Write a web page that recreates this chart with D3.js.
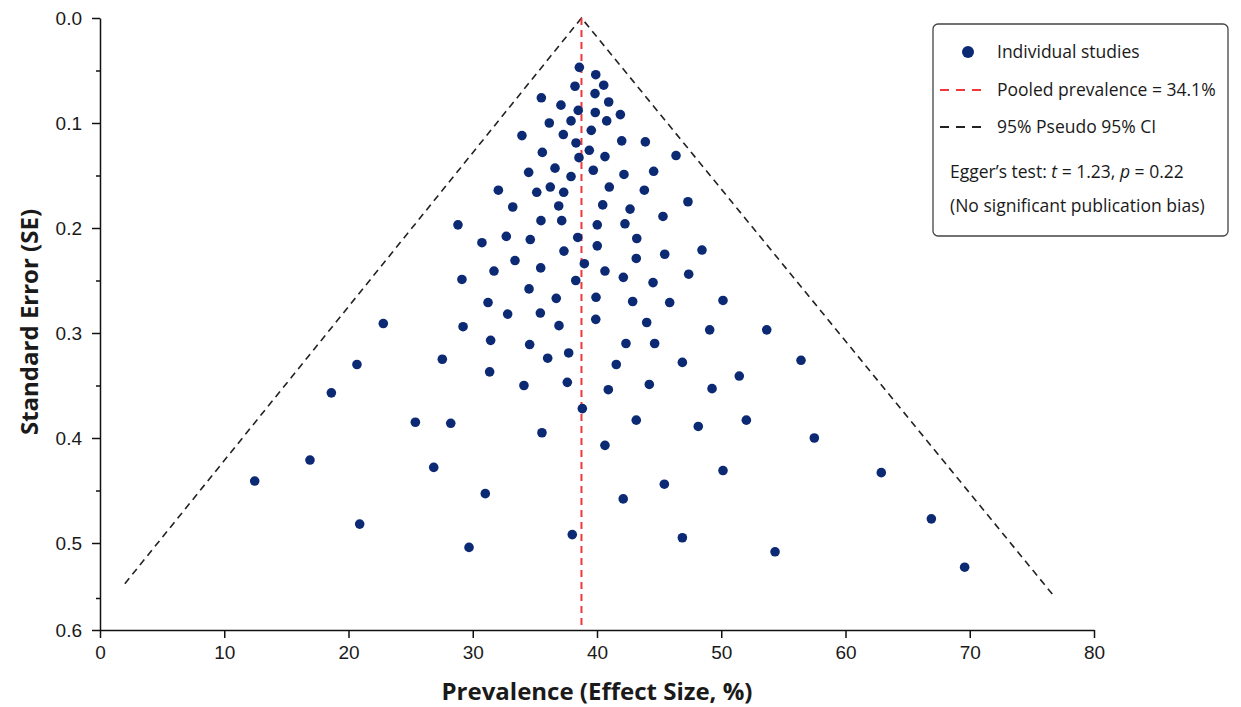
<!DOCTYPE html>
<html>
<head>
    <meta charset="utf-8">
    <title>Funnel plot</title>
    <script src="https://d3js.org/d3.v7.min.js"></script>
    <style>
        body { margin: 0; background: #fff; }
        svg { font-family: "Open Sans", "Noto Sans", sans-serif; }
        .axis path, .axis line { stroke: #111; stroke-width: 1.5px; }
        .axis text { font-size: 19px; fill: #1a1a1a; }
        .title { font-size: 24px; font-weight: bold; fill: #1a1a1a; }
        .legend text { font-size: 17.5px; fill: #1a1a1a; }
    </style>
</head>
<body>
<svg width="1241" height="707"></svg>
<script>
    // study estimates
    var prevalence = [38.58, 39.90, 38.23, 40.54, 35.52, 39.84, 40.94, 37.10, 38.49, 39.86, 41.88, 36.16, 37.91, 40.78, 39.54,
        33.96, 37.29, 38.31, 41.99, 43.89, 39.38, 35.60, 38.55, 40.64, 46.36, 36.62, 34.50, 37.91, 39.70, 42.17, 44.56,
        32.06, 35.15, 36.24, 37.32, 40.99, 43.81, 33.22, 36.92, 40.46, 42.66, 47.32, 28.81, 35.49, 37.16, 40.02, 42.25,
        45.31, 30.74, 32.70, 34.63, 38.45, 40.02, 43.20, 37.34, 48.45, 33.40, 35.47, 38.98, 43.16, 45.45, 31.71, 29.13,
        38.29, 40.64, 42.12, 44.51, 47.38, 34.53, 36.72, 39.92, 42.87, 45.85, 50.14, 31.23, 32.81, 35.44, 39.90, 44.00,
        22.80, 29.22, 36.94, 49.07, 31.44, 34.58, 42.33, 44.64, 27.55, 36.03, 37.72, 41.55, 46.87, 31.36, 34.12, 37.61,
        40.91, 44.21, 49.26, 53.66, 56.42, 51.45, 48.15, 52.02, 57.49, 50.14, 62.88, 46.87, 66.91, 54.33, 69.59, 20.68,
        18.62, 25.38, 26.86, 16.90, 12.45, 20.90, 38.82, 28.23, 35.57, 43.16, 40.64, 31.01, 45.42, 42.11, 38.01, 29.70];
    var stdError = [0.047, 0.054, 0.065, 0.064, 0.076, 0.072, 0.080, 0.083, 0.088, 0.090, 0.092, 0.100, 0.098, 0.098, 0.107,
        0.112, 0.111, 0.119, 0.117, 0.118, 0.126, 0.128, 0.133, 0.132, 0.131, 0.143, 0.147, 0.151, 0.145, 0.149, 0.146,
        0.164, 0.166, 0.161, 0.166, 0.161, 0.164, 0.180, 0.179, 0.178, 0.182, 0.175, 0.197, 0.193, 0.193, 0.197, 0.196,
        0.189, 0.214, 0.208, 0.211, 0.209, 0.217, 0.210, 0.222, 0.221, 0.231, 0.238, 0.234, 0.229, 0.225, 0.241, 0.249,
        0.250, 0.241, 0.247, 0.252, 0.244, 0.258, 0.267, 0.266, 0.270, 0.271, 0.269, 0.271, 0.282, 0.281, 0.287, 0.290,
        0.291, 0.294, 0.293, 0.297, 0.307, 0.311, 0.310, 0.310, 0.325, 0.324, 0.319, 0.330, 0.328, 0.337, 0.350, 0.347,
        0.354, 0.349, 0.353, 0.297, 0.326, 0.341, 0.389, 0.383, 0.400, 0.431, 0.433, 0.495, 0.477, 0.508, 0.522, 0.330,
        0.357, 0.385, 0.428, 0.421, 0.441, 0.482, 0.372, 0.386, 0.395, 0.383, 0.407, 0.453, 0.444, 0.458, 0.492, 0.504];

    var pooledX = 38.75;
    // pseudo CI funnel: left end, apex, right end
    var funnelX = [2.0, 38.75, 76.9];
    var funnelSE = [0.537, 0, 0.55];

    var xTicks = [0, 10, 20, 30, 40, 50, 60, 70, 80];
    var yTicks = [0, 0.1, 0.2, 0.3, 0.4, 0.5, 0.6];
    var yMinor = [0.05, 0.15, 0.25, 0.35, 0.45, 0.55];

    var legendLabels = ["Individual studies", "Pooled prevalence = 34.1%", "95% Pseudo 95% CI"];

    var svg = d3.select("svg");

    var x = d3.scaleLinear().domain([0, 80]).range([100, 1094]);
    // the original axis is squeezed below 0.5
    var y = d3.scaleLinear().domain([0, 0.5, 0.55, 0.6]).range([18, 543, 598, 630]);

    // funnel
    var funnel = d3.range(funnelX.length).map(function (i) { return [funnelX[i], funnelSE[i]]; });
    svg.append("path")
        .datum(funnel)
        .attr("fill", "none")
        .attr("stroke", "#222")
        .attr("stroke-width", 1.6)
        .attr("stroke-dasharray", "7,5")
        .attr("d", d3.line().x(function (d) { return x(d[0]); }).y(function (d) { return y(d[1]); }));

    // pooled line
    svg.append("line")
        .attr("x1", x(pooledX)).attr("x2", x(pooledX))
        .attr("y1", y(0)).attr("y2", y(0.6))
        .attr("stroke", "#f0383c")
        .attr("stroke-width", 2)
        .attr("stroke-dasharray", "7,5");

    // studies
    svg.append("g").selectAll("circle")
        .data(d3.range(prevalence.length))
        .enter().append("circle")
        .attr("cx", function (i) { return x(prevalence[i]); })
        .attr("cy", function (i) { return y(stdError[i]); })
        .attr("r", 4.8)
        .attr("fill", "#0c2a74");

    // axes
    var xAxis = svg.append("g")
        .attr("class", "axis")
        .attr("transform", "translate(0," + y(0.6) + ")")
        .call(d3.axisBottom(x).tickValues(xTicks).tickSize(8).tickSizeOuter(0).tickPadding(5));
    xAxis.selectAll("text").attr("dy", "0.85em");

    svg.append("g")
        .attr("class", "axis")
        .attr("transform", "translate(" + x(0) + ",0)")
        .call(d3.axisLeft(y).tickValues(yTicks).tickFormat(d3.format(".1f")).tickSize(8).tickSizeOuter(0).tickPadding(10));

    svg.append("g")
        .attr("class", "axis")
        .attr("transform", "translate(" + x(0) + ",0)")
        .call(d3.axisLeft(y).tickValues(yMinor).tickFormat("").tickSize(4).tickSizeOuter(0))
        .select(".domain").remove();

    svg.append("text")
        .attr("class", "title")
        .attr("x", 597).attr("y", 700)
        .attr("text-anchor", "middle")
        .text("Prevalence (Effect Size, %)");

    svg.append("text")
        .attr("class", "title")
        .attr("transform", "translate(38,322) rotate(-90)")
        .attr("text-anchor", "middle")
        .text("Standard Error (SE)");

    // legend
    var legend = svg.append("g").attr("class", "legend");
    legend.append("rect")
        .attr("x", 933).attr("y", 24)
        .attr("width", 295).attr("height", 212)
        .attr("rx", 5)
        .attr("fill", "#fff")
        .attr("stroke", "#444")
        .attr("stroke-width", 1.3);

    var rowY = [52, 90, 127];
    legend.append("circle").attr("cx", 968).attr("cy", rowY[0]).attr("r", 6).attr("fill", "#0c2a74");
    legend.append("line")
        .attr("x1", 940).attr("x2", 982).attr("y1", rowY[1]).attr("y2", rowY[1])
        .attr("stroke", "#f0383c").attr("stroke-width", 2).attr("stroke-dasharray", "9,7");
    legend.append("line")
        .attr("x1", 940).attr("x2", 982).attr("y1", rowY[2]).attr("y2", rowY[2])
        .attr("stroke", "#222").attr("stroke-width", 1.8).attr("stroke-dasharray", "9,7");

    legend.selectAll("text.entry")
        .data(legendLabels)
        .enter().append("text")
        .attr("class", "entry")
        .attr("x", 997)
        .attr("y", function (d, i) { return rowY[i]; })
        .attr("dy", "0.35em")
        .text(function (d) { return d; });

    var egger = legend.append("text").attr("x", 950).attr("y", 172).attr("dy", "0.35em");
    egger.append("tspan").text("Egger\u2019s test: ");
    egger.append("tspan").attr("font-style", "italic").text("t");
    egger.append("tspan").text(" = 1.23, ");
    egger.append("tspan").attr("font-style", "italic").text("p");
    egger.append("tspan").text(" = 0.22");

    legend.append("text").attr("x", 950).attr("y", 206).attr("dy", "0.35em")
        .text("(No significant publication bias)");
</script>
</body>
</html>
